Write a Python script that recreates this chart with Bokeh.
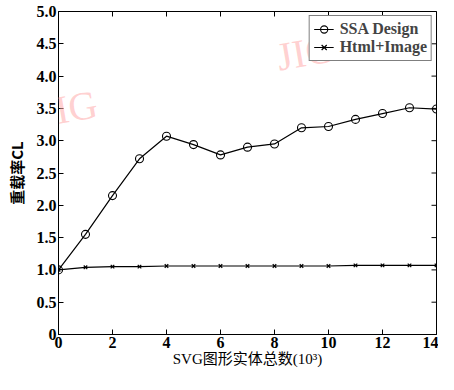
from bokeh.plotting import figure
from bokeh.models import FixedTicker, Range1d, Label, Legend, LegendItem
from bokeh.embed import file_html
from bokeh.resources import INLINE

# ---- data ----
x_vals = list(range(15))
ssa_design = [1.0, 1.55, 2.15, 2.72, 3.07, 2.94, 2.78, 2.90, 2.95, 3.20, 3.22, 3.33, 3.42, 3.51, 3.49]
html_image = [1.0, 1.04, 1.05, 1.05, 1.06, 1.06, 1.06, 1.06, 1.06, 1.06, 1.06, 1.07, 1.07, 1.07, 1.07]
series_names = ["SSA Design", "Html+Image"]
x_ticks = [0, 2, 4, 6, 8, 10, 12, 14]
y_ticks = [0, 0.5, 1.0, 1.5, 2.0, 2.5, 3.0, 3.5, 4.0, 4.5, 5.0]
y_tick_labels = ["0", "0.5", "1.0", "1.5", "2.0", "2.5", "3.0", "3.5", "4.0", "4.5", "5.0"]
x_label = "SVG图形实体总数(10³)"
y_label = "重载率CL"
watermark = "JIG"
x_min, x_max = 0, 14
y_min, y_max = 0, 5

SERIF = "'Liberation Serif', 'Noto Sans CJK SC'"

p = figure(width=438, height=374, output_backend="svg", toolbar_location=None,
           x_range=Range1d(x_min, x_max), y_range=Range1d(y_min, y_max),
           min_border_left=58, min_border_right=2, min_border_top=11, min_border_bottom=40)
p.background_fill_color = "white"
p.border_fill_color = "white"
p.outline_line_color = "black"
p.outline_line_width = 1
p.grid.visible = False

def style_axis(ax):
    ax.axis_line_color = "black"
    ax.axis_line_width = 1
    ax.major_tick_in = 5
    ax.major_tick_out = 0
    ax.minor_tick_line_color = None
    ax.major_tick_line_color = "black"
    ax.major_label_text_font = SERIF
    ax.major_label_text_font_style = "bold"
    ax.major_label_text_font_size = "16px"
    ax.major_label_text_color = "black"
    ax.major_label_standoff = 2
    ax.axis_label_text_color = "black"

xa = p.xaxis[0]
xa.ticker = FixedTicker(ticks=x_ticks)
style_axis(xa)
xa.axis_label = x_label
xa.axis_label_text_font = SERIF
xa.axis_label_text_font_style = "normal"
xa.axis_label_text_font_size = "15px"
xa.axis_label_standoff = 0

ya = p.yaxis[0]
ya.ticker = FixedTicker(ticks=y_ticks)
ya.major_label_overrides = {t: l for t, l in zip(y_ticks, y_tick_labels)}
style_axis(ya)
ya.axis_label = y_label
ya.axis_label_text_font = "'Noto Sans CJK SC'"
ya.axis_label_text_font_style = "bold"
ya.axis_label_text_font_size = "15px"
ya.axis_label_standoff = 7

# inward tick marks on the top and right edges (half of each dash is clipped by the frame)
p.scatter(x_ticks, [y_max] * len(x_ticks), marker="dash", angle=1.5708, size=10,
          line_color="black", line_width=1)
p.scatter([x_max] * len(y_ticks), y_ticks, marker="dash", size=10,
          line_color="black", line_width=1)

# watermarks (frame-relative screen units)
for wx, wy in [(10, 226), (247, 282)]:
    p.add_layout(Label(x=wx, y=wy, x_units="screen", y_units="screen", text=watermark,
                       text_font=SERIF, text_font_size="40px",
                       text_color="#ffaaaa", text_alpha=0.55, text_align="center",
                       text_baseline="middle", angle=0.17))

l1 = p.line(x_vals, ssa_design, line_color="black", line_width=1.2)
s1 = p.scatter(x_vals, ssa_design, marker="circle", size=8, fill_color=None,
               line_color="black", line_width=1.1)
l2 = p.line(x_vals, html_image, line_color="black", line_width=1.2)
s2 = p.scatter(x_vals, html_image, marker="x", size=5, line_color="black", line_width=1.2)

legend = Legend(items=[LegendItem(label=series_names[0], renderers=[l1, s1]),
                       LegendItem(label=series_names[1], renderers=[l2, s2])],
                location="top_right")
legend.label_text_font = SERIF
legend.label_text_font_style = "bold"
legend.label_text_font_size = "16px"
legend.border_line_color = "black"
legend.border_line_width = 1
legend.background_fill_alpha = 1
legend.margin = 4
legend.padding = 4
legend.spacing = 0
legend.glyph_width = 20
legend.glyph_height = 18
legend.label_height = 18
legend.label_standoff = 6
p.add_layout(legend)

open("out.html", "w").write(file_html(p, INLINE))
